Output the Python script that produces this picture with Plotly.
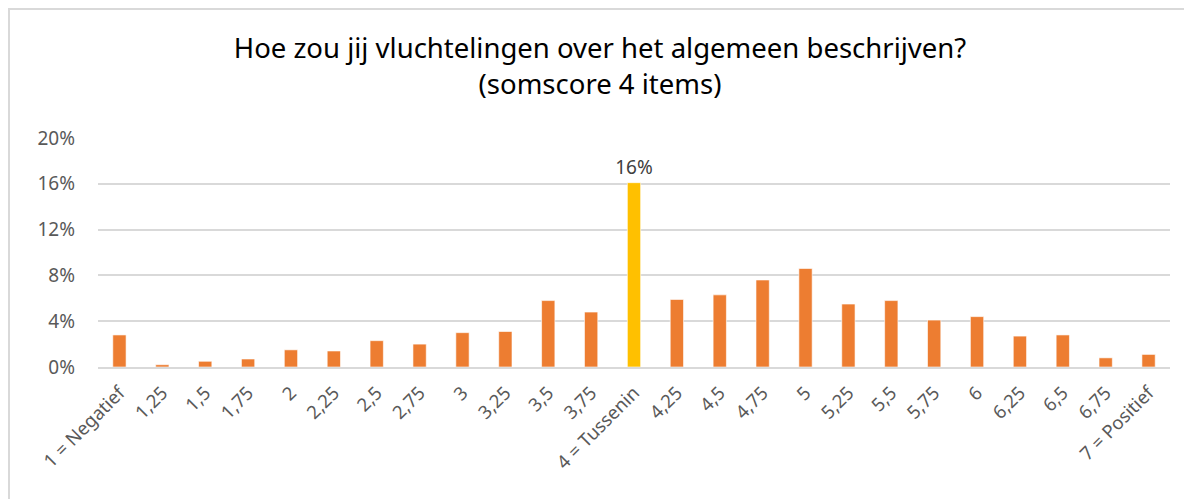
import plotly.graph_objects as go

categories = ["1 = Negatief", "1,25", "1,5", "1,75", "2", "2,25", "2,5", "2,75", "3",
              "3,25", "3,5", "3,75", "4 = Tussenin", "4,25", "4,5", "4,75", "5", "5,25",
              "5,5", "5,75", "6", "6,25", "6,5", "6,75", "7 = Positief"]
values = [2.8, 0.2, 0.5, 0.7, 1.5, 1.4, 2.3, 2.0, 3.0, 3.1, 5.8, 4.8, 16.1, 5.9, 6.3,
          7.6, 8.6, 5.5, 5.8, 4.1, 4.4, 2.7, 2.8, 0.8, 1.1]
highlight = "4 = Tussenin"
y_ticks = [0, 4, 8, 12, 16, 20]

colors = ["#FFC000" if c == highlight else "#ED7D31" for c in categories]
labels = ["%d%%" % round(v) if c == highlight else "" for c, v in zip(categories, values)]

fig = go.Figure(go.Bar(
    x=categories, y=values,
    marker=dict(color=colors, line=dict(color="rgba(255,255,255,0.6)", width=1)),
    text=labels, textposition="outside", cliponaxis=False, constraintext="none",
    textfont=dict(size=19, color="#404040"),
    width=0.31,
))

W, H = 1184, 491
fig.update_layout(
    width=W, height=H,
    paper_bgcolor="white", plot_bgcolor="white",
    margin=dict(l=90, r=22, t=130, b=132),
    font=dict(family="Noto Sans, Liberation Sans, sans-serif", color="#595959"),
    title=dict(text="Hoe zou jij vluchtelingen over het algemeen beschrijven?<br>(somscore 4 items)",
               x=0.5, xanchor="center", y=1 - 50/H, yanchor="top",
               font=dict(size=27.5, color="#000000")),
    showlegend=False,
)
fig.update_xaxes(type="category", categoryorder="array", categoryarray=categories,
                 tickangle=-45, tickfont=dict(size=18.5, color="#595959"),
                 showline=True, linecolor="#D9D9D9", linewidth=1.5, ticks="",
                 showgrid=False, automargin=False, ticklabelstandoff=6)
fig.update_yaxes(range=[0, 20], tickvals=y_ticks, ticktext=["%d%%" % t for t in y_ticks],
                 tickfont=dict(size=19, color="#595959"),
                 showgrid=True, gridcolor="#D9D9D9", gridwidth=1.5,
                 zeroline=False, showline=False, ticks="", ticklabelstandoff=22,
                 automargin=False)
fig.add_shape(type="rect", xref="paper", yref="paper",
              x0=-89/1072, x1=1 + 40/1072, y0=-150/229, y1=1 + 129/229,
              line=dict(color="#D9D9D9", width=2), fillcolor="rgba(0,0,0,0)", layer="below")

fig.write_html("out.html")
